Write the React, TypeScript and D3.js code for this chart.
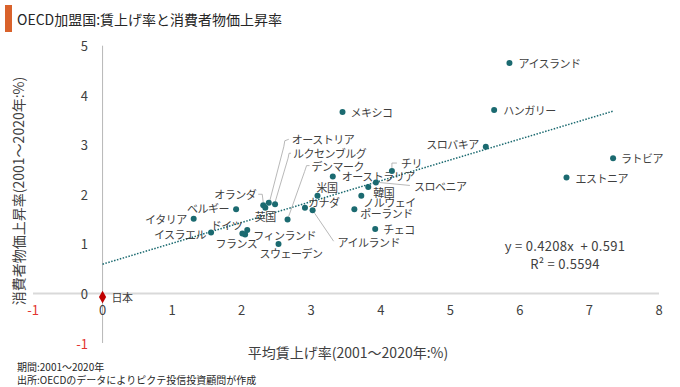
import React from "react";
import * as d3 from "d3";

// ---- data ----
const countries = [
  "アイスランド", "ハンガリー", "メキシコ", "スロバキア", "ラトビア", "エストニア",
  "チリ", "スロベニア", "韓国", "オーストラリア", "ノルウェイ", "ポーランド", "チェコ",
  "米国", "カナダ", "アイルランド", "オランダ", "英国", "オーストリア", "ルクセンブルグ",
  "デンマーク", "ベルギー", "イタリア", "イスラエル", "ドイツ", "フィンランド", "フランス",
  "スウェーデン",
];
const wageGrowth = [
  5.85, 5.63, 3.45, 5.51, 7.34, 6.67,
  4.16, 3.93, 3.82, 3.31, 3.72, 3.62, 3.92,
  3.09, 2.91, 3.02, 2.31, 2.34, 2.39, 2.48,
  2.66, 1.92, 1.31, 1.56, 2.08, 2.05, 2.01,
  2.53,
];
const inflation = [
  4.65, 3.70, 3.66, 2.96, 2.73, 2.34,
  2.47, 2.24, 2.15, 2.36, 1.97, 1.70, 1.30,
  1.97, 1.73, 1.68, 1.78, 1.73, 1.83, 1.80,
  1.49, 1.70, 1.51, 1.23, 1.28, 1.19, 1.21,
  1.00,
];
const japanName = "日本";
const japanWage = 0.0;
const japanInflation = -0.07;

const trendSlope = 0.4208;
const trendIntercept = 0.591;
const trendXMax = 7.34;
const equationText = "y = 0.4208x  + 0.591";
const r2Text = "R² = 0.5594";

const xTicks = [-1, 0, 1, 2, 3, 4, 5, 6, 7, 8];
const yTicks = [-1, 0, 1, 2, 3, 4, 5];

const titleText = "OECD加盟国:賃上げ率と消費者物価上昇率";
const xTitle = "平均賃上げ率(2001～2020年:%)";
const yTitle = "消費者物価上昇率(2001～2020年:%)";
const note1 = "期間:2001～2020年";
const note2 = "出所:OECDのデータによりピクテ投信投資顧問が作成";

// ---- label layout (offsets relative to the point, pixels) ----
type Lay = { dx: number; dy: number; anchor?: string; leader?: number[][] };
const labelLayout: Record<string, Lay> = {
  "アイスランド": { dx: 9, dy: 0 },
  "ハンガリー": { dx: 9, dy: 0 },
  "メキシコ": { dx: 8, dy: 0 },
  "スロバキア": { dx: -7, dy: -3, anchor: "end" },
  "ラトビア": { dx: 8, dy: 0 },
  "エストニア": { dx: 9, dy: 0 },
  "チリ": { dx: 9, dy: -8, leader: [[0, -3], [0, -8], [5, -8]] },
  "スロベニア": { dx: 38, dy: 3.5, leader: [[3, 0], [34, 3]] },
  "韓国": { dx: 5, dy: 5 },
  "オーストラリア": { dx: 9, dy: -1 },
  "ノルウェイ": { dx: 2, dy: 6 },
  "ポーランド": { dx: 6, dy: 4 },
  "チェコ": { dx: 8, dy: 0 },
  "米国": { dx: -1, dy: -9 },
  "カナダ": { dx: 3, dy: -6 },
  "アイルランド": { dx: 25, dy: 32, leader: [[2, 3], [21, 31]] },
  "オランダ": { dx: -7, dy: -11, anchor: "end", leader: [[-5, -11], [-1, -11], [0, -3]] },
  "英国": { dx: 0, dy: 8, anchor: "middle" },
  "オーストリア": { dx: 23, dy: -64, leader: [[1, -2], [15, -56], [16, -62], [20, -63.5]] },
  "ルクセンブルグ": { dx: 18, dy: -51, leader: [[0, -2], [13, -46], [14, -51], [16, -51]] },
  "デンマーク": { dx: 24, dy: -54, leader: [[1, -3], [17, -48], [19, -54], [22, -54]] },
  "ベルギー": { dx: -7, dy: -1, anchor: "end" },
  "イタリア": { dx: -7, dy: 0, anchor: "end" },
  "イスラエル": { dx: -5, dy: 1.5, anchor: "end" },
  "ドイツ": { dx: -5, dy: -5, anchor: "end" },
  "フィンランド": { dx: 8, dy: 1 },
  "フランス": { dx: -6, dy: 10, anchor: "middle" },
  "スウェーデン": { dx: -19, dy: 9 },
  "日本": { dx: 9, dy: 0 },
};

const FONT = "'Noto Sans CJK JP', 'Noto Sans', sans-serif";
const TEAL = "#1b6a70";
const TEXT = "#404040";
const RED = "#e3342f";

export default function App() {
  const W = 680;
  const H = 387;
  const x = d3.scaleLinear().domain([-1, 8]).range([33, 659]);
  const y = d3.scaleLinear().domain([-1, 5]).range([343, 45.7]);

  const pts = countries.map((c, i) => ({ name: c, px: x(wageGrowth[i]), py: y(inflation[i]) }));
  const jx = x(japanWage);
  const jy = y(japanInflation);

  const trend = d3.line<number>().x((d) => x(d)).y((d) => y(trendSlope * d + trendIntercept));

  const renderLabel = (name: string, px: number, py: number) => {
    const l = labelLayout[name];
    return (
      <g key={"l" + name}>
        {l.leader && (
          <polyline
            points={l.leader.map((p) => `${px + p[0]},${py + p[1]}`).join(" ")}
            fill="none"
            stroke="#a6a6a6"
            strokeWidth={0.8}
          />
        )}
        <text
          x={px + l.dx}
          y={py + l.dy}
          textAnchor={l.anchor || "start"}
          dominantBaseline="central"
          fontSize={11}
          letterSpacing={-0.5}
          fill={TEXT}
        >
          {name}
        </text>
      </g>
    );
  };

  return (
    <svg width={W} height={H} style={{ position: "absolute", left: 0, top: 0, fontFamily: FONT }}>
      <rect width={W} height={H} fill="#fff" />
      {/* title */}
      <rect x={5} y={5} width={7} height={27} fill="#d9622b" />
      <text x={17} y={19} dominantBaseline="central" fontSize={14} fill="#262626">
        {titleText}
      </text>

      {/* axes */}
      <line x1={x(-1)} x2={x(8)} y1={y(0)} y2={y(0)} stroke="#d9d9d9" strokeWidth={2} />
      <line x1={x(0)} x2={x(0)} y1={y(5)} y2={y(-1)} stroke="#a6a6a6" strokeWidth={0.8} />

      {yTicks.map((t) => (
        <text
          key={"yt" + t}
          x={88}
          y={y(t)}
          textAnchor="end"
          dominantBaseline="central"
          fontSize={13}
          fill={t < 0 ? RED : TEXT}
        >
          {t}
        </text>
      ))}
      {xTicks.map((t) => (
        <text
          key={"xt" + t}
          x={x(t)}
          y={y(0) + 16}
          textAnchor="middle"
          dominantBaseline="central"
          fontSize={13}
          fill={t < 0 ? RED : TEXT}
        >
          {t}
        </text>
      ))}

      <text x={348} y={352} textAnchor="middle" dominantBaseline="central" fontSize={14} fill={TEXT}>
        {xTitle}
      </text>
      <text
        transform={`translate(18,${191}) rotate(-90)`}
        textAnchor="middle"
        dominantBaseline="central"
        fontSize={14}
        fill={TEXT}
      >
        {yTitle}
      </text>

      {/* trend */}
      <path
        d={trend([0, trendXMax]) || ""}
        fill="none"
        stroke={TEAL}
        strokeWidth={1.5}
        strokeDasharray="1.5,1.5"
      />
      <text x={565} y={245} textAnchor="middle" dominantBaseline="central" fontSize={13} letterSpacing={0.3} fill={TEXT} style={{ whiteSpace: "pre" }}>
        {equationText}
      </text>
      <text x={565} y={263} textAnchor="middle" dominantBaseline="central" fontSize={13} letterSpacing={0.3} fill={TEXT}>
        {r2Text}
      </text>

      {/* labels */}
      {pts.map((p) => renderLabel(p.name, p.px, p.py))}
      {renderLabel(japanName, jx, jy)}

      {/* points */}
      {pts.map((p) => (
        <circle key={"c" + p.name} cx={p.px} cy={p.py} r={3} fill={TEAL} />
      ))}
      <path d={d3.symbol(d3.symbolDiamond, 45)() || ""} transform={`translate(${jx},${jy})`} fill="#c00000" />

      {/* notes */}
      <text x={17} y={366} dominantBaseline="central" fontSize={10} fill="#262626">
        {note1}
      </text>
      <text x={17} y={379} dominantBaseline="central" fontSize={10} fill="#262626">
        {note2}
      </text>
    </svg>
  );
}
